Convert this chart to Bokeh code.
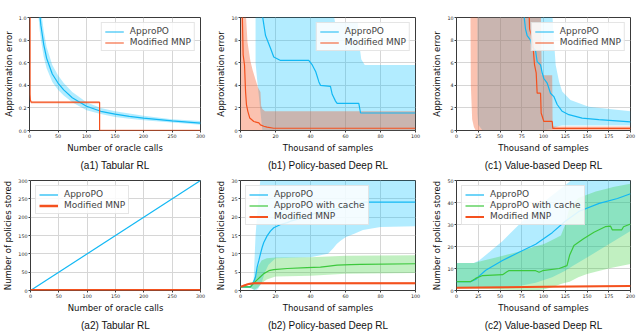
from bokeh.plotting import figure
from bokeh.layouts import column, row
from bokeh.models import Range1d, Title, Legend, LegendItem, PrintfTickFormatter, FixedTicker
from bokeh.embed import file_html
from bokeh.resources import INLINE

BLUE = "#12b8f4"
ORANGE = "#f4511e"
GREEN = "#3cc83c"

# ---------------- (a1) Tabular RL : approximation error ----------------
a1_appro_x = [10, 15, 18, 20, 25, 30, 40, 50, 60, 75, 100, 125, 150, 175, 200, 250, 300]
a1_appro_y = [2.0, 1.25, 1.03, 0.93, 0.76, 0.64, 0.5, 0.42, 0.36, 0.29, 0.215, 0.17, 0.145, 0.125, 0.11, 0.085, 0.065]
a1_appro_hi = [2.3, 1.45, 1.18, 1.07, 0.88, 0.74, 0.58, 0.49, 0.42, 0.34, 0.25, 0.2, 0.17, 0.15, 0.13, 0.1, 0.085]
a1_appro_lo = [1.7, 1.05, 0.88, 0.8, 0.65, 0.55, 0.43, 0.36, 0.31, 0.25, 0.18, 0.145, 0.12, 0.105, 0.09, 0.07, 0.05]
a1_mnp_x = [1, 1, 1.5, 3, 5, 123, 123, 300]
a1_mnp_y = [1.05, 0.32, 0.27, 0.25, 0.25, 0.25, 0.0, 0.0]
a1_mnp_hi = [1.05, 0.34, 0.285, 0.262, 0.262, 0.262, 0.008, 0.008]
a1_mnp_lo = [1.05, 0.30, 0.255, 0.238, 0.238, 0.238, 0.0, 0.0]

# ---------------- (b1) Policy-based Deep RL : approximation error ----------------
b1_appro_x = [12.2, 14.3, 17.1, 19, 22.9, 39, 41, 43, 44.8, 45.7, 51.4, 52.4, 54.3, 55.2, 67.6, 68.6, 100]
b1_appro_y = [10.5, 8.4, 7.3, 6.5, 6.2, 6.2, 5.8, 5.2, 4.3, 4.0, 3.9, 3.2, 2.6, 2.4, 2.4, 1.55, 1.55]
b1_appro_bx = [8.6, 9.5, 10.5, 11.5, 12.5, 53, 54, 67, 68, 69, 71, 100]
b1_appro_hi = [10.5, 10.5, 10.5, 10.5, 10.5, 10.5, 9.6, 9.6, 7.5, 6.3, 5.8, 5.8]
b1_appro_lo = [6.0, 4.5, 3.0, 1.5, 0, 0, 0, 0, 0, 0, 0, 0]
b1_mnp_x = [1.0, 1.5, 2.3, 2.9, 3.4, 4.2, 5.3, 7.6, 10.5, 11.4, 13.3, 15.2, 19, 100]
b1_mnp_y = [10.5, 6.7, 5.8, 3.4, 2.3, 1.7, 1.1, 0.8, 0.67, 0.5, 0.38, 0.3, 0.2, 0.2]
b1_mnp_bx = [0, 3.0, 4.0, 5.7, 7, 8.6, 10, 11.4, 11.8, 12.5, 14, 100]
b1_mnp_hi = [10.5, 10.5, 7.8, 6.1, 5.3, 4.5, 3.8, 3.4, 2.2, 1.9, 1.7, 1.7]
b1_mnp_lo = [0] * 12

# ---------------- (c1) Value-based Deep RL : approximation error ----------------
c1_appro_x = [77.4, 79.3, 81.2, 85.1, 87, 90.8, 92.7, 96.6, 98.5, 100.4, 104.2, 108, 111.9, 115.7, 121.5, 129.1, 144.4, 163.6, 200]
c1_appro_y = [10.3, 9.0, 8.4, 8.0, 7.4, 7.1, 6.1, 5.8, 5.1, 4.6, 4.2, 3.3, 3.0, 2.3, 1.7, 1.4, 1.1, 0.96, 0.76]
c1_appro_bx = [24, 25, 30, 97, 110, 112, 114, 118, 121.5, 131, 152, 200]
c1_appro_hi = [10.5, 10.5, 10.5, 10.5, 10.5, 8.0, 5.8, 4.3, 3.45, 2.7, 2.1, 1.7]
c1_appro_lo = [1.5, 0.5, 0, 0, 0.1, 0.2, 0.3, 0.4, 0.45, 0.45, 0.45, 0.45]
c1_mnp_x = [83.5, 84, 86.2, 87.7, 89.7, 91.6, 92.7, 96.6, 97.3, 100.4, 110, 110.7, 200]
c1_mnp_y = [10.3, 9.0, 8.4, 7.7, 5.8, 5.1, 3.3, 3.3, 1.55, 0.8, 0.8, 0.18, 0.18]
c1_mnp_bx = [16, 16.5, 18, 20, 22, 97, 98, 110, 110.5, 200]
c1_mnp_hi = [10.5, 10.5, 10.5, 10.5, 10.5, 10.5, 4.9, 4.9, 0.35, 0.35]
c1_mnp_lo = [10.5, 4.0, 1.0, 0.3, 0, 0, 0, 0, 0.05, 0.05]

# ---------------- (a2) Tabular RL : policies stored ----------------
a2_x = [0, 300]
a2_appro_y = [0, 300]
a2_mnp_y = [1, 1]

# ---------------- (b2) Policy-based Deep RL : policies stored ----------------
b2_appro_x = [0, 5.7, 7.6, 8.6, 9.5, 10.5, 11.4, 12.4, 13.3, 15.2, 17.1, 19, 22.9, 26.7, 28.6, 32.4, 38, 43.8, 49.5, 57, 64.8, 70.5, 100]
b2_appro_y = [1.0, 1.0, 2.4, 3.75, 6.4, 8.2, 10, 11.8, 13.1, 14.9, 16.2, 17.1, 18, 18.5, 18.9, 19.4, 20.3, 21.2, 21.6, 22.5, 23.4, 24.1, 24.1]
b2_appro_bx = [0, 6, 7.5, 8.6, 10, 11.4, 12, 14, 16, 20, 30, 40, 50, 53, 55, 57, 60, 65, 70, 80, 100]
b2_appro_hi = [1.1, 1.2, 3, 15, 24, 30.5, 30.5, 30.5, 30.5, 30.5, 30.5, 30.5, 30.5, 30.5, 30.5, 30.5, 30.5, 30.5, 30.5, 30.5, 30.5]
b2_appro_lo = [0.9, 0.6, 0.2, 0, 0.5, 1.5, 2, 5, 7, 8.8, 8.9, 9.1, 10, 11.5, 12.7, 13.5, 14.5, 15.5, 16.5, 17.3, 17.5]
b2_cache_x = [0, 5.7, 7.6, 9.5, 11.4, 13.3, 16.2, 19, 26.7, 38, 45.7, 49.5, 55.2, 62.9, 68.6, 100]
b2_cache_y = [1.0, 1.0, 2.0, 2.9, 3.75, 4.6, 5.4, 5.7, 6.0, 6.25, 6.4, 6.6, 6.9, 7.05, 7.14, 7.3]
b2_cache_bx = [0, 6, 8, 10, 12, 15, 20, 40, 50, 60, 100]
b2_cache_hi = [1.1, 1.3, 3.5, 6.5, 8.2, 8.8, 9.0, 9.1, 9.3, 9.5, 9.6]
b2_cache_lo = [0.9, 0.7, 0.2, 0.8, 2.0, 3.0, 3.8, 4.0, 4.3, 4.6, 4.8]
b2_mnp_x = [0, 2.9, 4.8, 7.6, 100]
b2_mnp_y = [1.0, 1.5, 1.8, 2.0, 2.0]
b2_mnp_hi = [1.3, 1.8, 2.1, 2.3, 2.3]
b2_mnp_lo = [0.8, 1.2, 1.5, 1.7, 1.7]

# ---------------- (c2) Value-based Deep RL : policies stored ----------------
c2_appro_x = [0, 16, 22, 25, 33.6, 52.8, 71.9, 91, 110, 125, 141, 164, 185, 200]
c2_appro_y = [4, 4, 5, 6.2, 9.2, 13.6, 17.4, 21, 26.3, 31.5, 36, 39.6, 41.8, 44]
c2_appro_bx = [0, 20, 26, 53, 72, 91, 110, 125, 133, 150, 175, 200]
c2_appro_hi = [12.5, 12.5, 13.6, 22.5, 30, 37.4, 43.3, 47.8, 50.5, 50.5, 50.5, 50.5]
c2_appro_lo = [1.5, 1.5, 1.5, 1.0, 2.0, 3.5, 6.0, 9.0, 11, 15, 21, 27]
c2_cache_x = [0, 16, 22, 30, 53, 58, 60, 91, 95, 99, 118, 127, 130, 135, 146, 158, 171, 177, 179, 190, 192, 200]
c2_cache_y = [4, 4, 5.5, 6.8, 7.2, 8.5, 9.0, 9.0, 8.3, 9.0, 10, 11.3, 16, 20.5, 23.5, 26.5, 29, 29.3, 27.6, 27.6, 29, 30.2]
c2_cache_bx = [0, 20, 30, 50, 60, 75, 90, 100, 110, 120, 125, 130, 140, 150, 160, 175, 180, 200]
c2_cache_hi = [12.5, 12.5, 13.5, 15.5, 16.5, 18, 20, 21, 23, 25, 30, 38, 42, 43.5, 45, 46.5, 47, 48.5]
c2_cache_lo = [1.0, 0.9, 0.8, 0.5, 0.3, 0.2, 0, 0.5, 1.5, 3, 3.5, 4, 6, 7.5, 8.5, 10, 10.5, 12]
c2_mnp_x = [0, 100, 200]
c2_mnp_y = [1.2, 1.7, 2.0]
c2_mnp_hi = [1.5, 2.0, 2.3]
c2_mnp_lo = [0.9, 1.4, 1.7]


def base(width, height, left, right, top, bottom, xmax, ymax, xticks, yticks,
         xlabel, ylabel, caption, yfmt=None):
    p = figure(width=width, height=height, x_range=Range1d(0, xmax), y_range=Range1d(0, ymax),
               output_backend="svg", toolbar_location=None, title=None,
               min_border_left=left, min_border_right=right,
               min_border_top=top, min_border_bottom=bottom)
    p.background_fill_color = "white"
    p.border_fill_color = "white"
    p.outline_line_color = "#3a3a3a"
    p.outline_line_width = 1
    for ax, ticks, label in ((p.xaxis[0], xticks, xlabel), (p.yaxis[0], yticks, ylabel)):
        ax.ticker = FixedTicker(ticks=ticks)
        ax.axis_label = label
        ax.axis_label_text_font = "DejaVu Sans"
        ax.axis_label_text_font_size = "8.5px"
        ax.axis_label_text_font_style = "normal"
        ax.axis_label_text_color = "#111111"
        ax.axis_label_standoff = 2
        ax.major_label_text_font = "DejaVu Sans"
        ax.major_label_text_font_size = "4.8px"
        ax.major_label_text_color = "#222222"
        ax.major_label_standoff = 1
        ax.major_tick_out = 2
        ax.major_tick_in = 0
        ax.minor_tick_out = 0
        ax.minor_tick_in = 0
        ax.axis_line_color = None
        ax.major_tick_line_color = "#3a3a3a"
    if yfmt:
        p.yaxis[0].formatter = PrintfTickFormatter(format=yfmt)
    p.xgrid.ticker = FixedTicker(ticks=xticks)
    p.ygrid.ticker = FixedTicker(ticks=yticks)
    p.grid.grid_line_color = "#d6d6d6"
    p.grid.grid_line_width = 1
    p.add_layout(Title(text=caption, align="center", text_font="Liberation Sans",
                       text_font_size="10px", text_font_style="normal",
                       text_color="#111111", standoff=4), "below")
    return p


def band(p, x, lo, hi, color, alpha):
    p.varea(x=x, y1=lo, y2=hi, fill_color=color, fill_alpha=alpha)


def add_legend(p, items, loc):
    leg = Legend(items=[LegendItem(label=l, renderers=[r]) for l, r in items], location=loc,
                 label_text_font="DejaVu Sans", label_text_font_size="9px",
                 label_height=9, glyph_height=9, glyph_width=19, label_standoff=6,
                 spacing=1, padding=3, margin=5,
                 border_line_color="#cccccc", border_line_width=1,
                 background_fill_color="white", background_fill_alpha=0.85)
    p.add_layout(leg)


H1, H2 = 172, 160
W1, W2, W3 = 212, 216, 211

# (a1)
pa1 = base(W1, H1, 26, 12, 17, 41, 300, 1.0, [0, 50, 100, 150, 200, 250, 300],
           [0, 0.2, 0.4, 0.6, 0.8, 1.0], "Number of oracle calls", "Approximation error",
           "(a1) Tabular RL", "%.1f")
band(pa1, a1_appro_x, a1_appro_lo, a1_appro_hi, "#00bfff", 0.3)
band(pa1, a1_mnp_x, a1_mnp_lo, a1_mnp_hi, ORANGE, 0.35)
r1 = pa1.line(a1_appro_x, a1_appro_y, line_color=BLUE, line_width=1.2)
r2 = pa1.line(a1_mnp_x, a1_mnp_y, line_color=ORANGE, line_width=1.2)
add_legend(pa1, [("ApproPO", r1), ("Modified MNP", r2)], "top_right")

# (b1)
pb1 = base(W2, H1, 28, 13, 17, 41, 100, 10, [0, 20, 40, 60, 80, 100],
           [0, 2, 4, 6, 8, 10], "Thousand of samples", "Approximation error",
           "(b1) Policy-based Deep RL")
band(pb1, b1_appro_bx, b1_appro_lo, b1_appro_hi, "#00bfff", 0.3)
band(pb1, b1_mnp_bx, b1_mnp_lo, b1_mnp_hi, ORANGE, 0.35)
r1 = pb1.line(b1_appro_x, b1_appro_y, line_color=BLUE, line_width=1.2)
r2 = pb1.line(b1_mnp_x, b1_mnp_y, line_color=ORANGE, line_width=1.2)
add_legend(pb1, [("ApproPO", r1), ("Modified MNP", r2)], "top_right")

# (c1)
pc1 = base(W3, H1, 28, 9, 17, 41, 200, 10, [0, 25, 50, 75, 100, 125, 150, 175, 200],
           [0, 2, 4, 6, 8, 10], "Thousand of samples", "Approximation error",
           "(c1) Value-based Deep RL")
band(pc1, c1_appro_bx, c1_appro_lo, c1_appro_hi, "#00bfff", 0.3)
band(pc1, c1_mnp_bx, c1_mnp_lo, c1_mnp_hi, ORANGE, 0.35)
r1 = pc1.line(c1_appro_x, c1_appro_y, line_color=BLUE, line_width=1.2)
r2 = pc1.line(c1_mnp_x, c1_mnp_y, line_color=ORANGE, line_width=1.2)
add_legend(pc1, [("ApproPO", r1), ("Modified MNP", r2)], "top_right")

# (a2)
pa2 = base(W1, H2, 26, 12, 8, 40, 300, 300, [0, 50, 100, 150, 200, 250, 300],
           [0, 50, 100, 150, 200, 250, 300], "Number of oracle calls",
           "Number of policies stored", "(a2) Tabular RL")
r1 = pa2.line(a2_x, a2_appro_y, line_color=BLUE, line_width=1.2)
r2 = pa2.line(a2_x, a2_mnp_y, line_color=ORANGE, line_width=2.5)
add_legend(pa2, [("ApproPO", r1), ("Modified MNP", r2)], "top_left")

# (b2)
pb2 = base(W2, H2, 28, 13, 8, 40, 100, 30, [0, 20, 40, 60, 80, 100],
           [0, 5, 10, 15, 20, 25, 30], "Thousand of samples",
           "Number of policies stored", "(b2) Policy-based Deep RL")
band(pb2, b2_appro_bx, b2_appro_lo, b2_appro_hi, "#00bfff", 0.3)
band(pb2, b2_cache_bx, b2_cache_lo, b2_cache_hi, "#32cd32", 0.3)
band(pb2, b2_mnp_x, b2_mnp_lo, b2_mnp_hi, ORANGE, 0.35)
r1 = pb2.line(b2_appro_x, b2_appro_y, line_color=BLUE, line_width=1.2)
r3 = pb2.line(b2_cache_x, b2_cache_y, line_color=GREEN, line_width=1.2)
r2 = pb2.line(b2_mnp_x, b2_mnp_y, line_color=ORANGE, line_width=2.0)
add_legend(pb2, [("ApproPO", r1), ("ApproPO with cache", r3), ("Modified MNP", r2)], "top_left")

# (c2)
pc2 = base(W3, H2, 28, 9, 8, 40, 200, 50, [0, 25, 50, 75, 100, 125, 150, 175, 200],
           [0, 10, 20, 30, 40, 50], "Thousand of samples",
           "Number of policies stored", "(c2) Value-based Deep RL")
band(pc2, c2_appro_bx, c2_appro_lo, c2_appro_hi, "#00bfff", 0.3)
band(pc2, c2_cache_bx, c2_cache_lo, c2_cache_hi, "#32cd32", 0.3)
band(pc2, c2_mnp_x, c2_mnp_lo, c2_mnp_hi, ORANGE, 0.35)
r1 = pc2.line(c2_appro_x, c2_appro_y, line_color=BLUE, line_width=1.2)
r3 = pc2.line(c2_cache_x, c2_cache_y, line_color=GREEN, line_width=1.2)
r2 = pc2.line(c2_mnp_x, c2_mnp_y, line_color=ORANGE, line_width=2.0)
add_legend(pc2, [("ApproPO", r1), ("ApproPO with cache", r3), ("Modified MNP", r2)], "top_left")

layout = column(row(pa1, pb1, pc1), row(pa2, pb2, pc2))
open("out.html", "w").write(file_html(layout, INLINE))
